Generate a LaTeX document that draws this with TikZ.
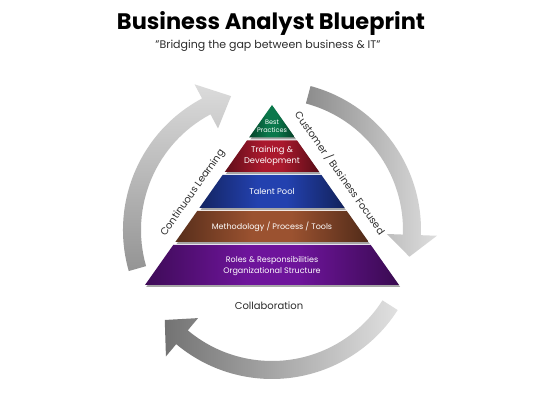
\documentclass[tikz,border=0pt]{standalone}
\usepackage{fontspec}
\setmainfont{Poppins}
\usetikzlibrary{shadings}
\definecolor{cgreen}{RGB}{10,120,75}
\definecolor{cred}{RGB}{170,25,45}
\definecolor{cblue}{RGB}{35,65,175}
\definecolor{cbrown}{RGB}{155,82,48}
\definecolor{cpurple}{RGB}{110,20,155}
\definecolor{labelgray}{RGB}{45,45,45}
\colorlet{tiermid}{cblue}
\pgfdeclarehorizontalshading[tiermid]{tiershade}{100bp}{%
  color(0bp)=(tiermid!18!black); color(20bp)=(tiermid!45!black);
  color(45bp)=(tiermid); color(55bp)=(tiermid);
  color(80bp)=(tiermid!40!black); color(100bp)=(tiermid!8!black)}
\tikzset{
  tierfill/.style={/utils/exec={\colorlet{tiermid}{#1}}, shading=tiershade},
  tiershadow/.style={fill=black!35},
  tiertext/.style={text=white, inner sep=0pt, align=center},
  ringtext/.style={text=labelgray, inner sep=0pt, font=\fontsize{10}{12}\selectfont},
}
\begin{document}
\begin{tikzpicture}[x=1pt,y=1pt]
\useasboundingbox (0,0) rectangle (539,395);
\fill[white] (0,0) rectangle (539,395);

% title
\node[anchor=base, inner sep=0pt] (title) at (271,365) {\resizebox{308pt}{!}{\bfseries Business Analyst Blueprint}};
\node[anchor=base, inner sep=0pt, text=labelgray] (subtitle) at (268,346) {\resizebox{225pt}{!}{"Bridging the gap between business \& IT"}};

% ring arrows
\begin{scope}[shift={(272,165)}]
\shade[top color=black!14, bottom color=black!42]
  (196:149pt) arc[start angle=196, end angle=118, radius=149pt]
  -- (118:165pt) -- (107:140pt) -- (118:115pt) -- (118:131pt)
  arc[start angle=118, end angle=196, radius=131pt] -- cycle;
\shade[left color=black!45, right color=black!13]
  (75:149pt) arc[start angle=75, end angle=-2, radius=149pt]
  -- (-2:165pt) -- (-11:140pt) -- (-2:115pt) -- (-2:131pt)
  arc[start angle=-2, end angle=75, radius=131pt] -- cycle;
\shade[left color=black!55, right color=black!12]
  (-32.5:149pt) arc[start angle=-32.5, end angle=-130, radius=149pt]
  -- (-130:165pt) -- (-140:140pt) -- (-130:115pt) -- (-130:131pt)
  arc[start angle=-130, end angle=-32.5, radius=131pt] -- cycle;
\end{scope}

% pyramid shadows
\begin{scope}[shift={(1.2,-2)}]
\fill[tiershadow] (272,290) -- (294.93,257.5) -- (249.07,257.5) -- cycle;
\fill[tiershadow] (246.95,254.5) -- (297.05,254.5) -- (319.27,223) -- (224.73,223) -- cycle;
\fill[tiershadow] (222.61,220) -- (321.39,220) -- (344.67,187) -- (199.33,187) -- cycle;
\fill[tiershadow] (197.21,184) -- (346.79,184) -- (368.66,153) -- (175.34,153) -- cycle;
\fill[tiershadow] (173.22,150) -- (370.78,150) -- (399,110) -- (145,110) -- cycle;
\end{scope}

% pyramid tiers
\shade[tierfill=cgreen] (272,290) -- (294.93,257.5) -- (249.07,257.5) -- cycle;
\shade[tierfill=cred] (246.95,254.5) -- (297.05,254.5) -- (319.27,223) -- (224.73,223) -- cycle;
\shade[tierfill=cblue] (222.61,220) -- (321.39,220) -- (344.67,187) -- (199.33,187) -- cycle;
\shade[tierfill=cbrown] (197.21,184) -- (346.79,184) -- (368.66,153) -- (175.34,153) -- cycle;
\shade[tierfill=cpurple] (173.22,150) -- (370.78,150) -- (399,110) -- (145,110) -- cycle;

% tier texts
\node[tiertext, font=\fontsize{6.5}{8.5}\selectfont] (t1) at (272,268.5) {Best\\Practices};
\node[tiertext, font=\fontsize{8.3}{11}\selectfont] (t2) at (272,239) {Training \&\\Development};
\node[tiertext, font=\fontsize{8.3}{11}\selectfont] (t3) at (272,204) {Talent Pool};
\node[tiertext, font=\fontsize{8}{11}\selectfont] (t4) at (272,168.5) {Methodology / Process / Tools};
\node[tiertext, font=\fontsize{8}{11}\selectfont] (t5) at (272,128.5) {Roles \& Responsibilities\\Organizational Structure};

% ring labels
\node[ringtext, rotate=54.8] (cl) at (193,202) {Continuous Learning};
\node[ringtext, rotate=-54.8] (cb) at (340,222) {Customer / Business Focused};
\node[ringtext] (co) at (269,89) {Collaboration};
\end{tikzpicture}
\end{document}
